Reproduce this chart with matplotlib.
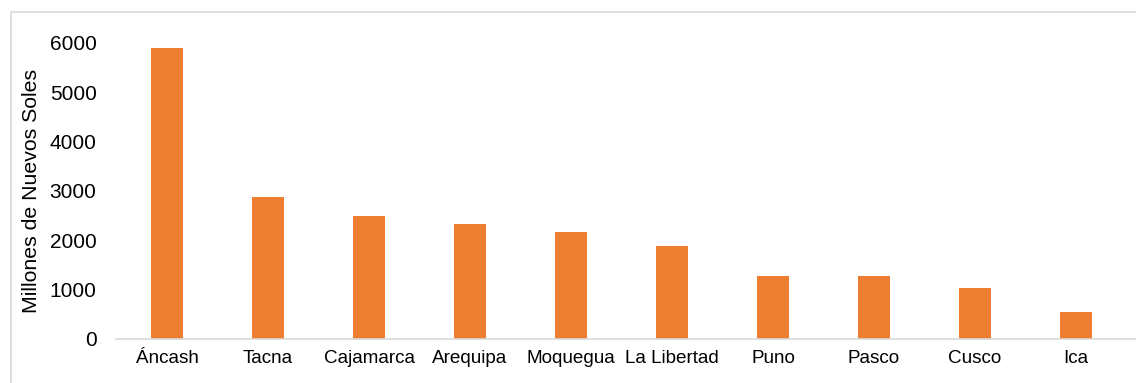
import matplotlib
matplotlib.use('Agg')
import matplotlib.pyplot as plt
from matplotlib.patches import Rectangle
import numpy as np

regions = ['Áncash', 'Tacna', 'Cajamarca', 'Arequipa', 'Moquegua',
           'La Libertad', 'Puno', 'Pasco', 'Cusco', 'Ica']
amounts = [5900, 2880, 2490, 2330, 2160, 1890, 1275, 1270, 1025, 550]
y_ticks = [0, 1000, 2000, 3000, 4000, 5000, 6000]

plt.rcParams['font.family'] = ['Liberation Sans', 'DejaVu Sans']

W, H = 1136, 383
fig = plt.figure(figsize=(W / 100, H / 100), dpi=100)

# light frame around the chart area
fig.patches.append(Rectangle((11 / W, -0.1), 1.2, (H - 12) / H + 0.1,
                             transform=fig.transFigure, fill=False,
                             edgecolor='#d9d9d9', linewidth=1.2))

ax = fig.add_axes([116 / W, 44 / H, 1 - 116 / W, (339 - 43) / H])
x = np.arange(len(regions))
ax.bar(x, amounts, width=0.315, color='#ED7D31')

ax.set_xlim(-0.505, 9.594)
ax.set_ylim(0, 6000)
ax.set_yticks(y_ticks)
ax.set_xticks(x)
ax.set_xticklabels(regions)
ax.tick_params(axis='y', length=0, pad=14, labelsize=15, colors='black')
ax.tick_params(axis='x', length=0, pad=8, labelsize=13.6, colors='black')
ax.set_ylabel('Millones de Nuevos Soles', fontsize=15.3, labelpad=6)

for side in ['top', 'right', 'left']:
    ax.spines[side].set_visible(False)
ax.spines['bottom'].set_color('#d9d9d9')
ax.spines['bottom'].set_linewidth(1.2)

fig.savefig('out.png', dpi=100)
